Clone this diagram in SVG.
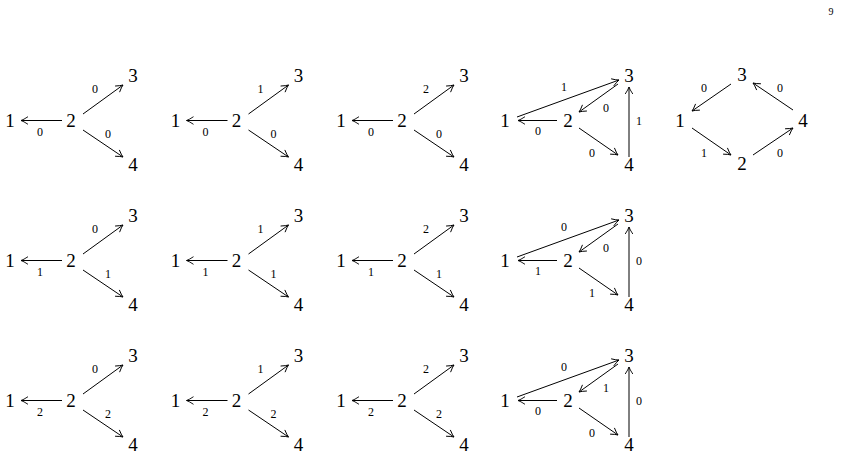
<svg xmlns="http://www.w3.org/2000/svg" width="841" height="458" viewBox="0 0 841 458">
<style>
.n{font-family:"Liberation Serif","DejaVu Serif",serif;font-size:19px;fill:#000;text-anchor:middle}
.l{font-family:"Liberation Serif","DejaVu Serif",serif;font-size:12px;fill:#000;text-anchor:middle}
.e{stroke:#000;stroke-width:1;fill:none;marker-end:url(#ah)}
.pg{font-family:"Liberation Serif","DejaVu Serif",serif;font-size:10px;fill:#000;text-anchor:middle}
</style>
<defs>
<marker id="ah" markerUnits="userSpaceOnUse" markerWidth="12" markerHeight="12" refX="0" refY="0" viewBox="-8 -6 10 12" orient="auto" overflow="visible">
<path d="M-7,-3.8 Q-2.5,-0.8 0,0 Q-2.5,0.8 -7,3.8" fill="none" stroke="#000" stroke-width="0.9"/>
</marker>
</defs>
<rect width="841" height="458" fill="#fff"/>
<text class="pg" x="831" y="15">9</text>

<g id="connectors">
<!-- star diagrams -->
<g transform="translate(0,120)"><path class="e" d="M62,0.5L21,0.5"/><path class="e" d="M83,-6L123,-35"/><path class="e" d="M83,10L123,37"/></g>
<g transform="translate(165.5,120)"><path class="e" d="M62,0.5L21,0.5"/><path class="e" d="M83,-6L123,-35"/><path class="e" d="M83,10L123,37"/></g>
<g transform="translate(331,120)"><path class="e" d="M62,0.5L21,0.5"/><path class="e" d="M83,-6L123,-35"/><path class="e" d="M83,10L123,37"/></g>
<g transform="translate(0,260)"><path class="e" d="M62,0.5L21,0.5"/><path class="e" d="M83,-6L123,-35"/><path class="e" d="M83,10L123,37"/></g>
<g transform="translate(165.5,260)"><path class="e" d="M62,0.5L21,0.5"/><path class="e" d="M83,-6L123,-35"/><path class="e" d="M83,10L123,37"/></g>
<g transform="translate(331,260)"><path class="e" d="M62,0.5L21,0.5"/><path class="e" d="M83,-6L123,-35"/><path class="e" d="M83,10L123,37"/></g>
<g transform="translate(0,400)"><path class="e" d="M62,0.5L21,0.5"/><path class="e" d="M83,-6L123,-35"/><path class="e" d="M83,10L123,37"/></g>
<g transform="translate(165.5,400)"><path class="e" d="M62,0.5L21,0.5"/><path class="e" d="M83,-6L123,-35"/><path class="e" d="M83,10L123,37"/></g>
<g transform="translate(331,400)"><path class="e" d="M62,0.5L21,0.5"/><path class="e" d="M83,-6L123,-35"/><path class="e" d="M83,10L123,37"/></g>
<!-- triangle diagrams -->
<g transform="translate(0,120)"><path class="e" d="M517,-3L619,-40"/><path class="e" d="M557,0.5L518,0.5"/><path class="e" d="M618,-36L579,-8"/><path class="e" d="M579,8L618,35"/><path class="e" d="M629,37L629,-33"/></g>
<g transform="translate(0,260)"><path class="e" d="M517,-3L619,-40"/><path class="e" d="M557,0.5L518,0.5"/><path class="e" d="M618,-36L579,-8"/><path class="e" d="M579,8L618,35"/><path class="e" d="M629,37L629,-33"/></g>
<g transform="translate(0,400)"><path class="e" d="M517,-3L619,-40"/><path class="e" d="M557,0.5L518,0.5"/><path class="e" d="M618,-36L579,-8"/><path class="e" d="M579,8L618,35"/><path class="e" d="M629,37L629,-33"/></g>
<!-- diamond -->
<g transform="translate(0,120)"><path class="e" d="M731,-36L692,-9"/><path class="e" d="M793,-10L753,-37"/><path class="e" d="M692,8L731,35"/><path class="e" d="M753,35L793,8"/></g>
</g>

<g id="edge-labels">
<g transform="translate(0,120)"><text class="l" x="40" y="16">0</text><text class="l" x="95" y="-27">0</text><text class="l" x="108" y="18">0</text></g>
<g transform="translate(165.5,120)"><text class="l" x="40" y="16">0</text><text class="l" x="95" y="-27">1</text><text class="l" x="108" y="18">0</text></g>
<g transform="translate(331,120)"><text class="l" x="40" y="16">0</text><text class="l" x="95" y="-27">2</text><text class="l" x="108" y="18">0</text></g>
<g transform="translate(0,260)"><text class="l" x="40" y="16">1</text><text class="l" x="95" y="-27">0</text><text class="l" x="108" y="18">1</text></g>
<g transform="translate(165.5,260)"><text class="l" x="40" y="16">1</text><text class="l" x="95" y="-27">1</text><text class="l" x="108" y="18">1</text></g>
<g transform="translate(331,260)"><text class="l" x="40" y="16">1</text><text class="l" x="95" y="-27">2</text><text class="l" x="108" y="18">1</text></g>
<g transform="translate(0,400)"><text class="l" x="40" y="16">2</text><text class="l" x="95" y="-27">0</text><text class="l" x="108" y="18">2</text></g>
<g transform="translate(165.5,400)"><text class="l" x="40" y="16">2</text><text class="l" x="95" y="-27">1</text><text class="l" x="108" y="18">2</text></g>
<g transform="translate(331,400)"><text class="l" x="40" y="16">2</text><text class="l" x="95" y="-27">2</text><text class="l" x="108" y="18">2</text></g>
<g transform="translate(0,120)"><text class="l" x="564" y="-29">1</text><text class="l" x="538" y="15">0</text><text class="l" x="606" y="-8">0</text><text class="l" x="592" y="37">0</text><text class="l" x="639" y="5">1</text></g>
<g transform="translate(0,260)"><text class="l" x="564" y="-29">0</text><text class="l" x="538" y="15">1</text><text class="l" x="606" y="-8">0</text><text class="l" x="592" y="37">1</text><text class="l" x="639" y="5">0</text></g>
<g transform="translate(0,400)"><text class="l" x="564" y="-29">0</text><text class="l" x="538" y="15">0</text><text class="l" x="606" y="-8">1</text><text class="l" x="592" y="37">0</text><text class="l" x="639" y="5">0</text></g>
<g transform="translate(0,120)"><text class="l" x="704" y="-28">0</text><text class="l" x="780" y="-28">0</text><text class="l" x="704" y="37">1</text><text class="l" x="780" y="37">0</text></g>
</g>

<!-- nodes: row 1 -->
<g id="r1c1-n1"><text class="n" x="10" y="126.5">1</text></g>
<g id="r1c1-n2"><text class="n" x="71" y="126.5">2</text></g>
<g id="r1c1-n3"><text class="n" x="133" y="81.5">3</text></g>
<g id="r1c1-n4"><text class="n" x="133" y="170.5">4</text></g>
<g id="r1c2-n1"><text class="n" x="175.5" y="126.5">1</text></g>
<g id="r1c2-n2"><text class="n" x="236.5" y="126.5">2</text></g>
<g id="r1c2-n3"><text class="n" x="298.5" y="81.5">3</text></g>
<g id="r1c2-n4"><text class="n" x="298.5" y="170.5">4</text></g>
<g id="r1c3-n1"><text class="n" x="341" y="126.5">1</text></g>
<g id="r1c3-n2"><text class="n" x="402" y="126.5">2</text></g>
<g id="r1c3-n3"><text class="n" x="464" y="81.5">3</text></g>
<g id="r1c3-n4"><text class="n" x="464" y="170.5">4</text></g>
<g id="r1c4-n1"><text class="n" x="505" y="126.5">1</text></g>
<g id="r1c4-n2"><text class="n" x="568" y="126.5">2</text></g>
<g id="r1c4-n3"><text class="n" x="629" y="81.5">3</text></g>
<g id="r1c4-n4"><text class="n" x="629" y="170.5">4</text></g>
<g id="r1c5-n1"><text class="n" x="680" y="126.5">1</text></g>
<g id="r1c5-n2"><text class="n" x="742" y="169.5">2</text></g>
<g id="r1c5-n3"><text class="n" x="742" y="80.5">3</text></g>
<g id="r1c5-n4"><text class="n" x="803" y="126.5">4</text></g>
<!-- row 2 -->
<g id="r2c1-n1"><text class="n" x="10" y="266.5">1</text></g>
<g id="r2c1-n2"><text class="n" x="71" y="266.5">2</text></g>
<g id="r2c1-n3"><text class="n" x="133" y="221.5">3</text></g>
<g id="r2c1-n4"><text class="n" x="133" y="310.5">4</text></g>
<g id="r2c2-n1"><text class="n" x="175.5" y="266.5">1</text></g>
<g id="r2c2-n2"><text class="n" x="236.5" y="266.5">2</text></g>
<g id="r2c2-n3"><text class="n" x="298.5" y="221.5">3</text></g>
<g id="r2c2-n4"><text class="n" x="298.5" y="310.5">4</text></g>
<g id="r2c3-n1"><text class="n" x="341" y="266.5">1</text></g>
<g id="r2c3-n2"><text class="n" x="402" y="266.5">2</text></g>
<g id="r2c3-n3"><text class="n" x="464" y="221.5">3</text></g>
<g id="r2c3-n4"><text class="n" x="464" y="310.5">4</text></g>
<g id="r2c4-n1"><text class="n" x="505" y="266.5">1</text></g>
<g id="r2c4-n2"><text class="n" x="568" y="266.5">2</text></g>
<g id="r2c4-n3"><text class="n" x="629" y="221.5">3</text></g>
<g id="r2c4-n4"><text class="n" x="629" y="310.5">4</text></g>
<!-- row 3 -->
<g id="r3c1-n1"><text class="n" x="10" y="406.5">1</text></g>
<g id="r3c1-n2"><text class="n" x="71" y="406.5">2</text></g>
<g id="r3c1-n3"><text class="n" x="133" y="361.5">3</text></g>
<g id="r3c1-n4"><text class="n" x="133" y="450.5">4</text></g>
<g id="r3c2-n1"><text class="n" x="175.5" y="406.5">1</text></g>
<g id="r3c2-n2"><text class="n" x="236.5" y="406.5">2</text></g>
<g id="r3c2-n3"><text class="n" x="298.5" y="361.5">3</text></g>
<g id="r3c2-n4"><text class="n" x="298.5" y="450.5">4</text></g>
<g id="r3c3-n1"><text class="n" x="341" y="406.5">1</text></g>
<g id="r3c3-n2"><text class="n" x="402" y="406.5">2</text></g>
<g id="r3c3-n3"><text class="n" x="464" y="361.5">3</text></g>
<g id="r3c3-n4"><text class="n" x="464" y="450.5">4</text></g>
<g id="r3c4-n1"><text class="n" x="505" y="406.5">1</text></g>
<g id="r3c4-n2"><text class="n" x="568" y="406.5">2</text></g>
<g id="r3c4-n3"><text class="n" x="629" y="361.5">3</text></g>
<g id="r3c4-n4"><text class="n" x="629" y="450.5">4</text></g>
</svg>
